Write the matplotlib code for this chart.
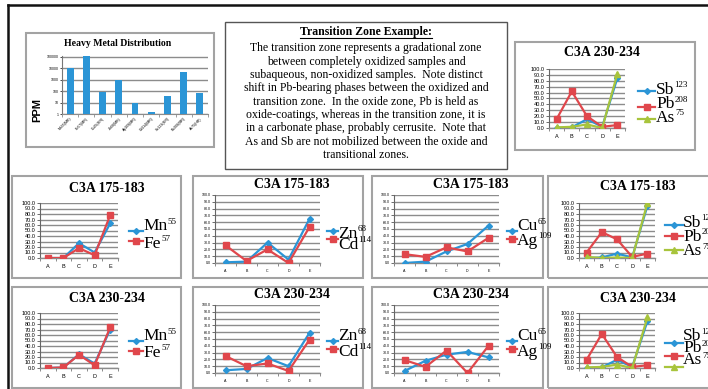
import matplotlib
matplotlib.use('Agg')
import matplotlib.pyplot as plt
from matplotlib.patches import Rectangle
from matplotlib.lines import Line2D

W, H = 708, 389

samples = ['A', 'B', 'C', 'D', 'E']

# C3A 175-183
mn_175 = [0, 0, 27, 10, 63]
fe_175 = [0, 0, 18, 5, 78]
zn_175 = [1, 2, 30, 5, 65]
cd_175 = [26, 3, 20, 0, 53]
cu_175 = [0, 2, 17, 28, 55]
ag_175 = [13, 9, 23, 17, 37]
sb_175 = [0, 1, 8, 1, 95]
pb_175 = [10, 47, 34, 2, 8]
as_175 = [2, 0, 1, 0, 100]

# C3A 230-234
mn_230 = [0, 1, 25, 8, 70]
fe_230 = [0, 1, 24, 5, 74]
zn_230 = [4, 6, 22, 10, 59]
cd_230 = [25, 10, 14, 3, 49]
cu_230 = [3, 18, 27, 31, 23]
ag_230 = [19, 9, 33, 0, 40]
sb_230 = [0, 1, 15, 2, 85]
pb_230 = [15, 62, 20, 2, 5]
as_230 = [1, 2, 6, 0, 92]

# heavy metal distribution (ppm, log scale)
metals = ['Mn55(MR)', 'Fe57(MR)', 'Cu65(MR)', 'Zn68(MR)', 'Ag109(MR)',
          'Cd114(MR)', 'Sb123(MR)', 'Pb208(MR)', 'As75(HR)']
ppm = [10000, 120000, 88, 880, 8.8, 1.6, 37, 5200, 67]

note_title = 'Transition Zone Example:'
note_lines = [
    'The transition zone represents a gradational zone',
    'between completely oxidized samples and',
    'subaqueous, non-oxidized samples.  Note distinct',
    'shift in Pb-bearing phases between the oxidized and',
    'transition zone.  In the oxide zone, Pb is held as',
    'oxide-coatings, whereas in the transition zone, it is',
    'in a carbonate phase, probably cerrusite.  Note that',
    'As and Sb are not mobilized between the oxide and',
    'transitional zones.',
]

BLUE = '#2b95d6'
RED = '#e0474c'
GREEN = '#a8c43c'
SERIF = 'Liberation Serif'
SANS = 'Liberation Sans'

fig = plt.figure(figsize=(W / 100, H / 100), dpi=100)
fig.patch.set_facecolor('white')
renderer = fig.canvas.get_renderer()


def fx(x):
    return x / W


def fy(y):
    return 1 - y / H


def rect(x0, y0, x1, y1):
    return [x0 / W, 1 - y1 / H, (x1 - x0) / W, (y1 - y0) / H]


def frame(x0, y0, x1, y1, color='#a3a3a3', lw=1.5):
    fig.add_artist(Rectangle((fx(x0), fy(y1)), (x1 - x0) / W, (y1 - y0) / H,
                             transform=fig.transFigure, fill=False,
                             edgecolor=color, linewidth=lw))


def legend_entry(lx0, lx1, tx, ly, ty, name, mass, color, marker, ms):
    fig.add_artist(Line2D([fx(lx0), fx((lx0 + lx1) / 2), fx(lx1)], [fy(ly)] * 3,
                          transform=fig.transFigure, color=color, lw=1.6,
                          marker=marker, markevery=[1], markersize=ms))
    t = fig.text(fx(tx), fy(ty), name, fontsize=12.5, family=SERIF,
                 va='center', ha='left')
    bb = t.get_window_extent(renderer)
    fig.text(bb.x1 / W, (bb.y1 + 0.5) / H, mass, fontsize=6.5, family=SERIF,
             va='top', ha='left')


def line_panel(box, plot, title, title_xy, series, leg, small):
    frame(*box)
    ax = fig.add_axes(rect(*plot))
    for name, mass, vals, color, marker, ms in series:
        ax.plot(range(len(samples)), vals, color=color, lw=1.6,
                marker=marker, markersize=ms, zorder=3)
    ax.set_xlim(-0.5, 4.5)
    ax.set_ylim(0, 100)
    ax.set_yticks(range(0, 101, 10))
    fs = 2.6 if small else 4
    ax.set_yticklabels([f'{v:.1f}' for v in range(0, 101, 10)],
                       fontsize=fs, family=SANS)
    ax.set_xticks(range(len(samples)))
    ax.set_xticklabels(samples, fontsize=fs, family=SANS)
    ax.set_xticks([i - 0.5 for i in range(len(samples) + 1)], minor=True)
    ax.tick_params(axis='x', which='major', length=0, pad=4)
    ax.tick_params(axis='x', which='minor', length=2, width=0.6, color='#777')
    ax.tick_params(axis='y', length=2, width=0.6, pad=1, color='#555')
    ax.grid(axis='y', color='#8c8c8c', lw=1.0)
    ax.set_axisbelow(True)
    for s in ['top', 'right']:
        ax.spines[s].set_visible(False)
    ax.spines['left'].set_color('#666')
    ax.spines['left'].set_linewidth(0.8)
    ax.spines['bottom'].set_color('#8c8c8c')
    ax.spines['bottom'].set_linewidth(1.0)
    ax.set_facecolor('none')
    fig.text(fx(title_xy[0]), fy(title_xy[1]), title, fontsize=10,
             family=SERIF, weight='bold', ha='center', va='center')
    lx0, lx1, tx, lys, tys = leg
    for (name, mass, vals, color, marker, ms), ly, ty in zip(series, lys, tys):
        legend_entry(lx0, lx1, tx, ly, ty, name, mass, color, marker, ms)


def mnfe(vals_mn, vals_fe):
    return [('Mn', '55', vals_mn, BLUE, 'D', 3),
            ('Fe', '57', vals_fe, RED, 's', 4.5)]


def zncd(vals_zn, vals_cd):
    return [('Zn', '68', vals_zn, BLUE, 'D', 3),
            ('Cd', '114', vals_cd, RED, 's', 4.5)]


def cuag(vals_cu, vals_ag):
    return [('Cu', '65', vals_cu, BLUE, 'D', 3),
            ('Ag', '109', vals_ag, RED, 's', 4.5)]


def sbpbas(vals_sb, vals_pb, vals_as):
    return [('Sb', '123', vals_sb, BLUE, 'D', 3),
            ('Pb', '208', vals_pb, RED, 's', 4.5),
            ('As', '75', vals_as, GREEN, '^', 5)]


# outer black frame
fig.add_artist(Line2D([fx(8), fx(708)], [fy(5), fy(5)], transform=fig.transFigure,
                      color='#111', lw=1.8))
fig.add_artist(Line2D([fx(8), fx(8)], [fy(5), fy(389)], transform=fig.transFigure,
                      color='#111', lw=1.8))

# heavy metal distribution
frame(26, 33, 214, 147)
ax = fig.add_axes(rect(62, 56, 208, 114))
ax.bar(range(len(metals)), ppm, width=0.42, color=BLUE, bottom=0, zorder=3)
ax.set_yscale('log')
ax.set_ylim(1, 120000)
ax.set_xlim(-0.5, len(metals) - 0.5)
ax.set_yticks([1, 10, 100, 1000, 10000, 100000])
ax.set_yticklabels(['1', '10', '100', '1000', '10000', '100000'], fontsize=2.5,
                   family=SANS)
ax.minorticks_off()
ax.set_xticks(range(len(metals)))
ax.set_xticklabels(metals, fontsize=2.5, family=SANS, rotation=45, ha='right',
                   rotation_mode='anchor')
ax.set_xticks([i - 0.5 for i in range(len(metals) + 1)], minor=True)
ax.tick_params(axis='x', which='major', length=0, pad=2)
ax.tick_params(axis='x', which='minor', length=2, width=0.5, color='#777')
ax.tick_params(axis='y', length=1.5, width=0.5, pad=1)
ax.grid(axis='y', color='#8c8c8c', lw=1.0)
ax.set_axisbelow(True)
for s in ['top', 'right']:
    ax.spines[s].set_visible(False)
ax.spines['left'].set_color('#777')
ax.spines['bottom'].set_color('#8c8c8c')
ax.set_facecolor('none')
fig.text(fx(118), fy(44), 'Heavy Metal Distribution', fontsize=7, family=SERIF,
         weight='bold', ha='center', va='center')
fig.text(fx(37), fy(110), 'PPM', fontsize=8, family=SANS, weight='bold',
         rotation=90, ha='center', va='center')

# note text box
frame(225, 22, 507, 169, color='#555', lw=1.0)
tt = fig.text(fx(366), fy(32), note_title, fontsize=8.5, family=SERIF,
              weight='bold', ha='center', va='center')
bb = tt.get_window_extent(renderer)
fig.add_artist(Line2D([bb.x0 / W, bb.x1 / W], [fy(37.5)] * 2,
                      transform=fig.transFigure, color='k', lw=0.8))
for i, line in enumerate(note_lines):
    fig.text(fx(366), fy(48.3 + i * 13.35), line, fontsize=8.5, family=SERIF,
             ha='center', va='center')

# top right panel
line_panel((515, 42, 695, 150), (549, 69, 625, 128), 'C3A 230-234', (602, 52),
           sbpbas(sb_230, pb_230, as_230),
           (638, 655, 656, [91, 106.5, 118.5], [89.5, 104.5, 117.5]), False)

# row 1
line_panel((12, 176, 181, 278), (40, 203, 118, 258), 'C3A 175-183', (107, 188),
           mnfe(mn_175, fe_175),
           (129, 143, 143.5, [230.7, 241], [226.5, 243.5]), False)
line_panel((193, 176, 363, 278), (215, 195, 320, 263), 'C3A 175-183', (292, 184),
           zncd(zn_175, cd_175),
           (327, 338, 338, [230.7, 239], [234, 244.5]), True)
line_panel((372, 176, 543, 278), (394, 195, 499, 263), 'C3A 175-183', (471, 184),
           cuag(cu_175, ag_175),
           (507, 517, 517, [230.7, 239], [226.5, 241]), True)
line_panel((548, 176, 712, 278), (579, 203, 655, 258), 'C3A 175-183', (638, 187),
           sbpbas(sb_175, pb_175, as_175),
           (665, 683, 683, [225, 236, 250], [223, 237, 251]), False)

# row 2
line_panel((12, 287, 181, 388), (40, 313, 118, 368), 'C3A 230-234', (107, 298),
           mnfe(mn_230, fe_230),
           (129, 143, 143.5, [340.7, 351], [336.5, 353]), False)
line_panel((193, 287, 363, 388), (215, 305, 320, 373), 'C3A 230-234', (292, 294),
           zncd(zn_230, cd_230),
           (327, 338, 338, [340.7, 349], [336.5, 351.5]), True)
line_panel((372, 287, 543, 388), (394, 305, 499, 373), 'C3A 230-234', (471, 294),
           cuag(cu_230, ag_230),
           (507, 517, 517, [340.7, 349], [336.5, 351.5]), True)
line_panel((548, 287, 712, 388), (579, 313, 655, 368), 'C3A 230-234', (638, 298),
           sbpbas(sb_230, pb_230, as_230),
           (665, 683, 683, [343, 356, 367], [336.5, 348, 360]), False)

fig.savefig('out.png', dpi=100)
